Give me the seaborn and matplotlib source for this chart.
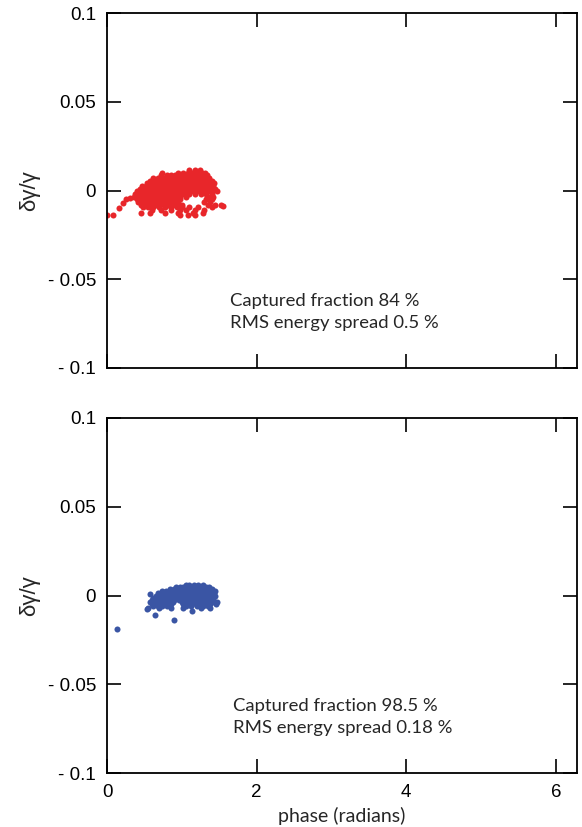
import numpy as np
import pandas as pd
import matplotlib
matplotlib.use("Agg")
import matplotlib.pyplot as plt
import seaborn as sns

# ---- data (phase in radians, dgamma/gamma) ----
red_levels = [0.0115, 0.0100, 0.0085, 0.0070, 0.0055, 0.0040, 0.0025, 0.0010, -0.0005,
              -0.0020, -0.0035, -0.0050, -0.0065, -0.0080, -0.0095, -0.0110,
              -0.0125, -0.0140]
red_rows = [
    [1.10, 1.17, 1.24],
    [0.74, 0.95, 1.02, 1.08, 1.13, 1.18, 1.22, 1.27, 1.31],
    [0.72, 0.80, 0.86, 0.91, 0.96, 1.01, 1.06, 1.11, 1.16, 1.21, 1.26, 1.31, 1.34],
    [0.62, 0.68, 0.73, 0.78, 0.83, 0.88, 0.93, 0.98, 1.03, 1.08, 1.13, 1.18, 1.23, 1.28, 1.33, 1.37],
    [0.57, 0.62, 0.67, 0.72, 0.77, 0.82, 0.87, 0.92, 0.97, 1.02, 1.07, 1.12, 1.17, 1.22, 1.27, 1.32, 1.38, 1.41],
    [0.53, 0.58, 0.63, 0.68, 0.73, 0.78, 0.83, 0.88, 0.93, 0.98, 1.03, 1.08, 1.13, 1.18, 1.23, 1.28, 1.33, 1.38, 1.43],
    [0.47, 0.52, 0.57, 0.62, 0.67, 0.72, 0.77, 0.82, 0.87, 0.92, 0.97, 1.02, 1.07, 1.12, 1.17, 1.22, 1.27, 1.32, 1.37, 1.42],
    [0.44, 0.49, 0.54, 0.59, 0.64, 0.69, 0.74, 0.79, 0.84, 0.89, 0.94, 0.99, 1.04, 1.09, 1.14, 1.19, 1.24, 1.29, 1.34, 1.39, 1.45],
    [0.40, 0.45, 0.50, 0.55, 0.60, 0.65, 0.70, 0.75, 0.80, 0.85, 0.90, 0.95, 1.00, 1.05, 1.10, 1.15, 1.20, 1.25, 1.30, 1.35, 1.40, 1.47],
    [0.38, 0.43, 0.48, 0.53, 0.58, 0.63, 0.68, 0.73, 0.78, 0.83, 0.88, 0.93, 0.98, 1.03, 1.10, 1.18, 1.26, 1.33, 1.40],
    [0.36, 0.42, 0.47, 0.52, 0.57, 0.62, 0.67, 0.72, 0.77, 0.82, 0.87, 0.92, 0.97, 1.05, 1.36, 1.42],
    [0.40, 0.46, 0.51, 0.56, 0.61, 0.66, 0.71, 0.76, 0.81, 0.86, 0.91, 0.98, 1.33, 1.40],
    [0.42, 0.48, 0.53, 0.58, 0.63, 0.68, 0.73, 0.78, 0.83, 0.88, 0.95, 1.30, 1.38],
    [0.45, 0.52, 0.58, 0.64, 0.70, 0.76, 0.82, 0.88, 0.94, 1.00, 1.35, 1.45, 1.52],
    [0.48, 0.55, 0.62, 0.70, 0.78, 0.86, 0.93, 1.00, 1.10, 1.22, 1.40],
    [0.60, 0.72, 0.85, 0.97, 1.05, 1.17, 1.30],
    [0.46, 0.58, 0.78, 0.95, 1.15, 1.28],
    [0.98, 1.08, 1.18],
]
red_extra_phase = [0.00, 0.08, 0.16, 0.21, 0.26, 0.31, 1.55]
red_extra_dgamma = [-0.014, -0.014, -0.010, -0.007, -0.005, -0.004, -0.0085]

blue_levels = [0.0060, 0.0048, 0.0036, 0.0024, 0.0012, 0.0000, -0.0012, -0.0024,
               -0.0036, -0.0048, -0.0060, -0.0072, -0.0086]
blue_rows = [
    [1.05, 1.10, 1.16, 1.22, 1.28],
    [0.92, 0.97, 1.02, 1.07, 1.12, 1.17, 1.22, 1.27, 1.32, 1.37],
    [0.84, 0.89, 0.94, 0.99, 1.04, 1.09, 1.14, 1.19, 1.24, 1.29, 1.34, 1.40],
    [0.74, 0.79, 0.84, 0.89, 0.94, 0.99, 1.04, 1.09, 1.14, 1.19, 1.24, 1.29, 1.34, 1.39, 1.45],
    [0.68, 0.73, 0.78, 0.83, 0.88, 0.93, 0.98, 1.03, 1.08, 1.13, 1.18, 1.23, 1.28, 1.33, 1.38, 1.43],
    [0.65, 0.70, 0.75, 0.80, 0.85, 0.90, 0.95, 1.00, 1.05, 1.10, 1.15, 1.20, 1.25, 1.30, 1.35, 1.40, 1.45],
    [0.62, 0.67, 0.72, 0.77, 0.82, 0.87, 0.92, 0.97, 1.02, 1.07, 1.12, 1.17, 1.22, 1.27, 1.32, 1.37, 1.42],
    [0.60, 0.65, 0.70, 0.75, 0.80, 0.85, 0.90, 0.96, 1.02, 1.07, 1.12, 1.17, 1.22, 1.27, 1.32, 1.37, 1.42],
    [0.58, 0.63, 0.68, 0.73, 0.78, 0.83, 0.88, 1.00, 1.05, 1.10, 1.15, 1.20, 1.25, 1.30, 1.35, 1.40, 1.47],
    [0.60, 0.65, 0.70, 0.75, 0.80, 0.85, 1.02, 1.08, 1.14, 1.20, 1.26, 1.32, 1.38, 1.46],
    [0.62, 0.68, 0.74, 0.80, 1.05, 1.12, 1.20, 1.28, 1.35],
    [0.55, 0.70, 0.85, 1.02, 1.25, 1.38],
    [1.13],
]
blue_extra_phase = [0.13, 0.64, 0.90, 0.57, 0.53]
blue_extra_dgamma = [-0.019, -0.011, -0.0137, 0.0006, -0.0075]

y_ticks = [0.1, 0.05, 0.0, -0.05, -0.1]
y_tick_labels = ["0.1", "0.05", "0", "- 0.05", "- 0.1"]
x_ticks = [0, 2, 4, 6]
x_tick_labels = ["0", "2", "4", "6"]
top_text = "Captured fraction 84 %\nRMS energy spread 0.5 %"
bottom_text = "Captured fraction 98.5 %\nRMS energy spread 0.18 %"


def build(levels, rows, ex_p, ex_d):
    p, d = [], []
    for lev, row in zip(levels, rows):
        p.extend(row)
        d.extend([lev] * len(row))
    p.extend(ex_p)
    d.extend(ex_d)
    return pd.DataFrame({"phase": p, "dgamma": d})


red_df = build(red_levels, red_rows, red_extra_phase, red_extra_dgamma)
blue_df = build(blue_levels, blue_rows, blue_extra_phase, blue_extra_dgamma)

sns.set_style("white")
plt.rcParams["font.family"] = ["Liberation Sans", "DejaVu Sans"]

fig = plt.figure(figsize=(5.82, 8.27), dpi=100)
ax1 = fig.add_axes([107 / 582, 1 - 368 / 827, 470 / 582, 355 / 827])
ax2 = fig.add_axes([107 / 582, 1 - 773 / 827, 470 / 582, 355 / 827])

sns.scatterplot(data=red_df, x="phase", y="dgamma", ax=ax1, color="#E8262A",
                s=19, linewidth=0, legend=False)
sns.scatterplot(data=blue_df, x="phase", y="dgamma", ax=ax2, color="#3A55A4",
                s=19, linewidth=0, legend=False)

for ax, txt, tx in [(ax1, top_text, 1.64), (ax2, bottom_text, 1.69)]:
    ax.set_xlim(0, 2 * np.pi)
    ax.set_ylim(-0.1, 0.1)
    ax.set_yticks(y_ticks)
    ax.set_yticklabels(y_tick_labels, fontsize=13.5)
    ax.set_xticks(x_ticks)
    ax.tick_params(direction="in", length=10, width=1.2, top=True, right=True,
                   left=True, bottom=True, colors="black", pad=8)
    for sp in ax.spines.values():
        sp.set_visible(True)
        sp.set_linewidth(1.3)
        sp.set_color("black")
    ax.set_ylabel("δγ/γ", fontsize=16, labelpad=5)
    ax.text(tx, -0.0685, txt, fontsize=13.3, family=["Lato", "DejaVu Sans"],
            ha="left", va="center", linespacing=1.5)

ax1.set_xticklabels([])
ax1.set_xlabel("")
ax2.set_xticklabels(x_tick_labels, fontsize=13.5)
ax2.set_xlabel("phase (radians)", fontsize=14, family=["Lato", "DejaVu Sans"], labelpad=4)

fig.savefig("out.png", dpi=100)
